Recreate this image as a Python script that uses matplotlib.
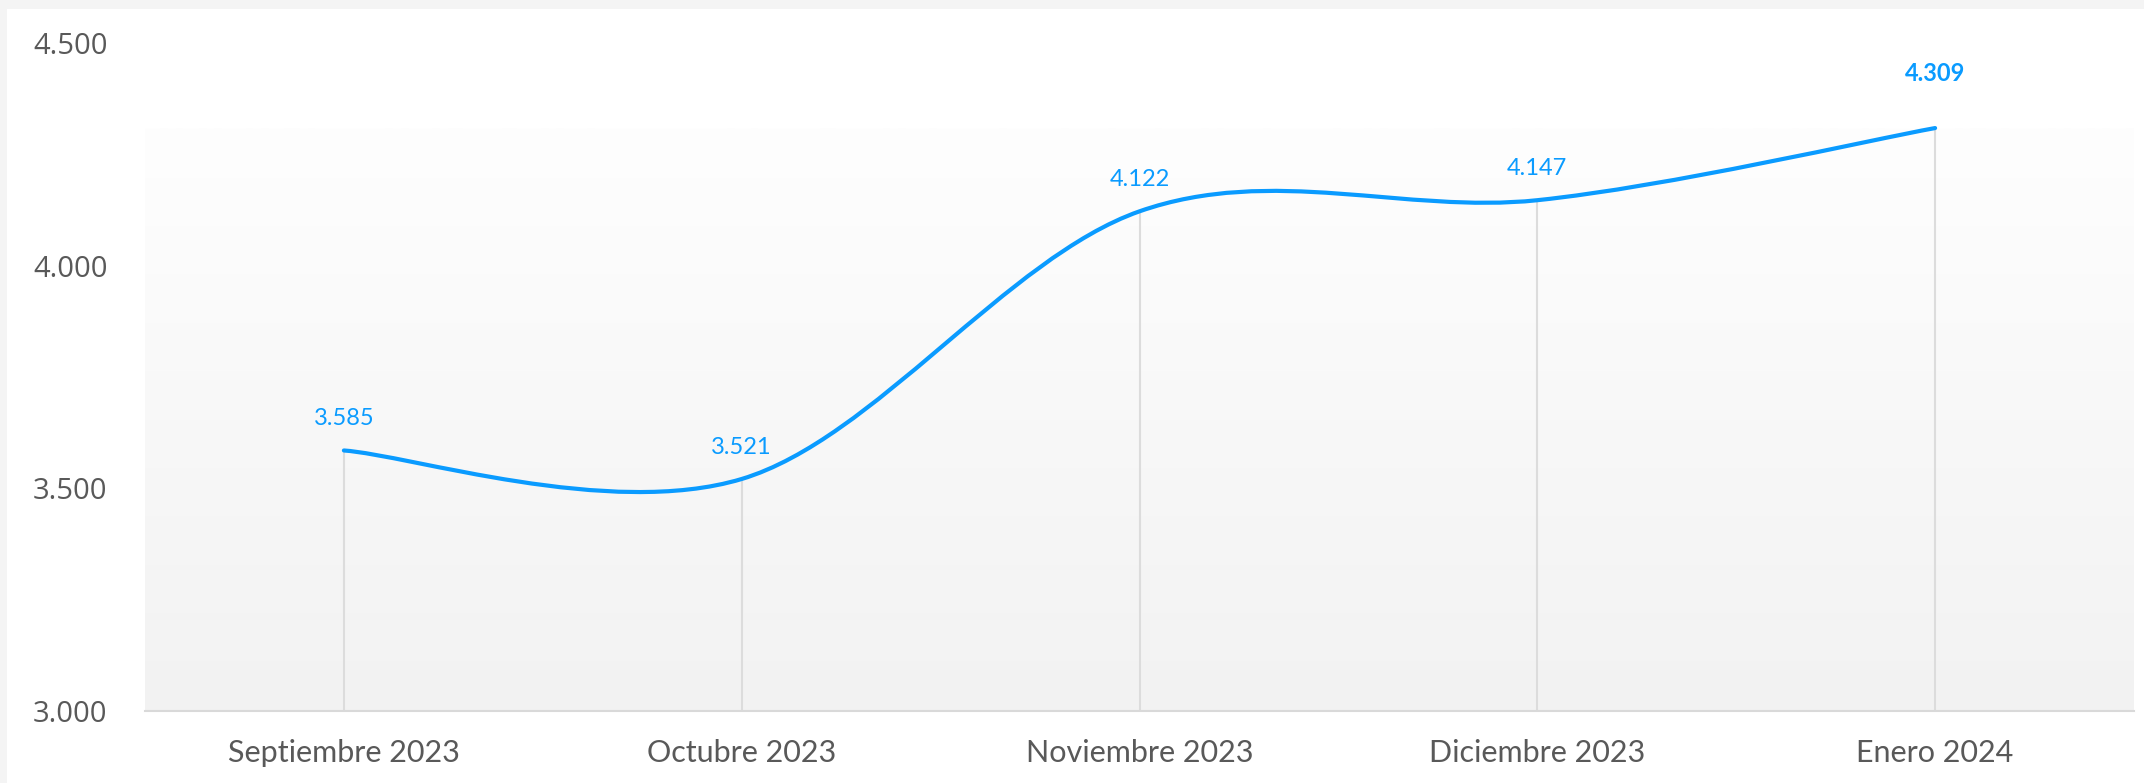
import numpy as np
import matplotlib.pyplot as plt
from matplotlib.path import Path
from matplotlib.patches import PathPatch, Rectangle
from matplotlib.colors import LinearSegmentedColormap

# data
months = ["Septiembre 2023", "Octubre 2023", "Noviembre 2023", "Diciembre 2023", "Enero 2024"]
values = [3585, 3521, 4122, 4147, 4309]
value_labels = ["3.585", "3.521", "4.122", "4.147", "4.309"]
yticks = [3000, 3500, 4000, 4500]
ytick_labels = ["3.000", "3.500", "4.000", "4.500"]

line_color = "#0a9bff"
grey_text = "#595959"

fig = plt.figure(figsize=(21.44, 7.83), dpi=100)
fig.patch.set_facecolor("#f4f4f4")
# white card inside the light frame
fig.patches.append(Rectangle((7 / 2144, 0), 1, 1 - 9 / 783, transform=fig.transFigure,
                             facecolor="white", edgecolor="none", zorder=0))

ax = fig.add_axes([145 / 2144, 72 / 783, (2134 - 145) / 2144, 668 / 783])
ax.set_zorder(2)
ax.set_facecolor("none")

x = np.arange(len(values))
ax.set_xlim(-0.5, len(values) - 0.5)
ax.set_ylim(3000, 4500)

# soft vertical gradient under the top value
grad = np.linspace(0, 1, 256).reshape(-1, 1)
cmap = LinearSegmentedColormap.from_list("g", ["#f2f2f2", "#fefefe"])
ax.imshow(grad, cmap=cmap, extent=(-0.5, len(values) - 0.5, 3000, max(values)),
          aspect="auto", origin="lower", zorder=0)

# drop lines
ax.vlines(x, 3000, values, color="#dcdcdc", lw=1.5, zorder=1)

# smoothed line (bezier through the points, like the spreadsheet smoothing)
pts = np.column_stack([x, values]).astype(float)
verts = [pts[0]]
codes = [Path.MOVETO]
n = len(pts)
for i in range(n - 1):
    p0 = pts[max(i - 1, 0)]
    p1 = pts[i]
    p2 = pts[i + 1]
    p3 = pts[min(i + 2, n - 1)]
    verts += [p1 + (p2 - p0) / 6, p2 - (p3 - p1) / 6, p2]
    codes += [Path.CURVE4] * 3
ax.add_patch(PathPatch(Path(verts, codes), facecolor="none", edgecolor=line_color,
                       lw=3.0, capstyle="round", zorder=3))

# data labels
for i, (v, lab) in enumerate(zip(values, value_labels)):
    last = i == len(values) - 1
    ax.annotate(lab, (i, v), xytext=(0, 34 if last else 18), textcoords="offset points",
                ha="center", va="baseline", color=line_color, fontsize=17,
                fontfamily="Lato", fontweight="bold" if last else "normal", zorder=4)

ax.set_xticks(x)
ax.set_xticklabels(months, fontfamily="Lato", fontsize=22, color=grey_text)
ax.set_yticks(yticks)
ax.set_yticklabels(ytick_labels, fontfamily="Open Sans", fontsize=21, color=grey_text)
ax.tick_params(axis="x", length=0, pad=20)
ax.tick_params(axis="y", length=0, pad=27)

for s in ["top", "right", "left"]:
    ax.spines[s].set_visible(False)
ax.spines["bottom"].set_color("#d9d9d9")
ax.spines["bottom"].set_linewidth(1.5)

fig.savefig("out.png", dpi=100, facecolor=fig.get_facecolor())
